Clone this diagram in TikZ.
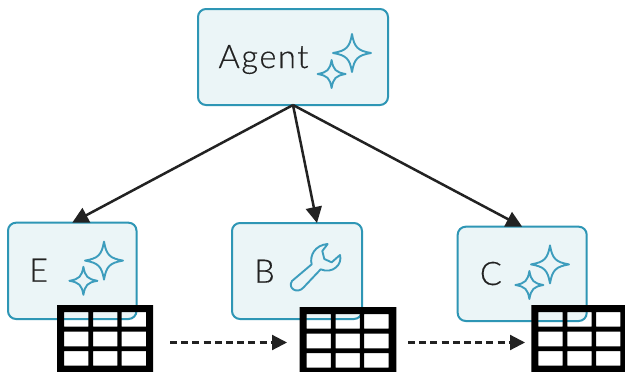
\documentclass[tikz,border=0pt]{standalone}
\usepackage{fontspec}
\usetikzlibrary{arrows.meta}
\newfontfamily\lblfont[UprightFont=* Light,LetterSpace=5,FakeBold=0.4]{Lato}
\definecolor{boxline}{HTML}{2E96B5}
\definecolor{boxfill}{HTML}{EBF5F7}
\definecolor{iconline}{HTML}{3D9DBD}
\definecolor{ink}{HTML}{222222}
\tikzset{
  agentbox/.style={draw=boxline,fill=boxfill,line width=2pt,rounded corners=8pt,inner sep=0pt,outer sep=0pt},
  gridholder/.style={inner sep=0pt,outer sep=0pt},
  lbl/.style={inner sep=0pt,anchor=base west,text=ink,font=\lblfont\fontsize{32.5}{32.5}\selectfont},
  solidarrow/.style={draw=ink,line width=2.5pt,-{Triangle[length=16pt,width=16pt]}},
  dasharrow/.style={draw=ink,line width=2.2pt,dash pattern=on 7pt off 4.2pt,-{Triangle[length=15pt,width=15pt]}},
  iconstroke/.style={draw=iconline,line width=1.9pt,line join=round}
}
\newcommand{\sparkle}[3]{%
  \draw[iconstroke,shift={(#1,#2)}] (0,-#3) .. controls (0.12*#3,-0.3*#3) and (0.3*#3,-0.12*#3) .. (#3,0)
    .. controls (0.3*#3,0.12*#3) and (0.12*#3,0.3*#3) .. (0,#3)
    .. controls (-0.12*#3,0.3*#3) and (-0.3*#3,0.12*#3) .. (-#3,0)
    .. controls (-0.3*#3,-0.12*#3) and (-0.12*#3,-0.3*#3) .. cycle;}
\newcommand{\gridframe}[3]{%
  \begin{scope}[shift={(#1.north west)}]
    \fill[black,even odd rule] (0,0) rectangle (#2,#3)
      \foreach \a in {7,36,64.7} {\foreach \b in {7,26.7,46} {(\a,\b) rectangle ++(24.4,14.7)}};
  \end{scope}}
\begin{document}
\begin{tikzpicture}[x=1pt,y=-1pt]
\useasboundingbox (0,0) rectangle (625,372);
\fill[white] (0,0) rectangle (625,372);
% boxes
\node[agentbox,minimum width=190pt,minimum height=96pt] (agent) at (293,57) {};
\node[agentbox,minimum width=128.5pt,minimum height=96.3pt] (e) at (72.25,270.85) {};
\node[agentbox,minimum width=130pt,minimum height=96pt] (b) at (297,271) {};
\node[agentbox,minimum width=129pt,minimum height=94.3pt] (c) at (522.2,273.85) {};
% labels
\node[lbl] (agentlabel) at (218.3,68) {Agent};
\node[lbl] (elabel) at (29,281.7) {E};
\node[lbl] (blabel) at (254,282.7) {B};
\node[lbl] (clabel) at (479.7,285) {C};
% icons
\sparkle{352}{53}{19}
\sparkle{331.6}{74}{14}
\sparkle{104}{260.6}{19}
\sparkle{83.4}{280.8}{14}
\sparkle{550}{264.4}{19}
\sparkle{529.4}{285}{14}
\begin{scope}[shift={(280,235)},x=0.3333pt,y=-0.3333pt]
\draw[iconstroke] (36,138) -- (95,88)
  .. controls (88,62) and (105,30) .. (143,27)
  -- (127,48) -- (133,72) -- (155,82) -- (180,60)
  .. controls (188,88) and (158,118) .. (122,103)
  -- (70,158)
  .. controls (52,178) and (22,160) .. (36,138) -- cycle;
\end{scope}
% tables
\node[gridholder,minimum width=96pt,minimum height=67pt] (te) at (105,338.5) {};
\node[gridholder,minimum width=96.8pt,minimum height=65pt] (tb) at (347.9,339.5) {};
\node[gridholder,minimum width=93.7pt,minimum height=67pt] (tc) at (578.15,338.5) {};
\gridframe{te}{96}{67}
\gridframe{tb}{96.8}{65}
\gridframe{tc}{93.7}{67}
% connectors
\draw[solidarrow] (agent.south) -- (e.north);
\draw[solidarrow] (agent.south) -- ([xshift=20pt]b.north);
\draw[solidarrow] (agent.south) -- (c.north);
\draw[dasharrow,shorten <=17pt,shorten >=12.5pt] ([yshift=-4pt]te.east) -- ([yshift=-3pt]tb.west);
\draw[dasharrow,shorten <=11.7pt,shorten >=6.3pt] ([yshift=-3pt]tb.east) -- ([yshift=-4pt]tc.west);
\end{tikzpicture}
\end{document}
